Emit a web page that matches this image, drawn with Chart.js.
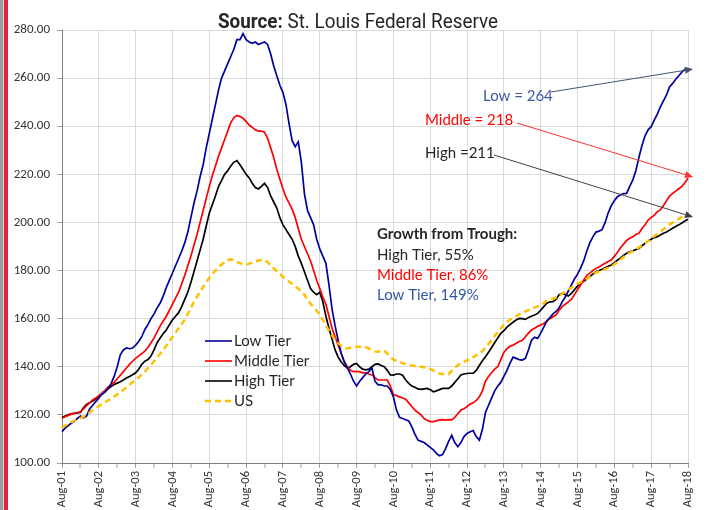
<!DOCTYPE html>
<html>
<head>
<meta charset="utf-8">
<script src="https://cdn.jsdelivr.net/npm/chart.js@4.4.1/dist/chart.umd.min.js"></script>
<style>
  html, body { margin: 0; padding: 0; background: #ffffff; }
  #wrap { position: relative; width: 706px; height: 510px; overflow: hidden; }
  #c { position: absolute; left: 0; top: 0; }
  .stripe1 { position: absolute; left: 0; top: 0; width: 3px; height: 510px; background: #9a9a9a; }
  .stripe2 { position: absolute; left: 3px; top: 0; width: 1px; height: 510px; background: #d8d8d8; }
  .stripe3 { position: absolute; left: 4px; top: 0; width: 4px; height: 510px; background: #e3203b; }
</style>
</head>
<body>
<div id="wrap">
  <canvas id="c" width="706" height="510"></canvas>
  <div class="stripe1"></div><div class="stripe2"></div><div class="stripe3"></div>
</div>
<script>
// ---------- DATA ----------
const monthNames = ['Aug','Sep','Oct','Nov','Dec','Jan','Feb','Mar','Apr','May','Jun','Jul'];
const yearTickLabels = ['Aug-01','Aug-02','Aug-03','Aug-04','Aug-05','Aug-06','Aug-07','Aug-08','Aug-09',
  'Aug-10','Aug-11','Aug-12','Aug-13','Aug-14','Aug-15','Aug-16','Aug-17','Aug-18'];
const yTicks = [100, 120, 140, 160, 180, 200, 220, 240, 260, 280];

const lowTier = [
  113, 114.5, 115.5, 116.5, 117.3, 118.5, 119.5, 118.8, 119.5, 122.5, 124, 125.5,
  127, 128.5, 129.5, 131, 133, 136, 140, 145, 147, 147.8, 147.5, 147.8,
  149, 150.5, 152.5, 155.5, 157.5, 160, 162, 164.5, 166.5, 169.5, 173, 176,
  179, 182, 185, 188, 191.5, 196, 202, 208, 213, 219, 224, 231,
  237, 243, 249, 255, 260, 263, 266, 269, 272, 276, 276, 278.5,
  276, 275, 274.5, 275, 274, 274.5, 275, 274, 270, 265, 261, 257,
  254, 249, 241, 234, 231.5, 233.5, 225, 212, 205, 202, 199, 193,
  189, 186, 183, 174, 164, 157, 151, 145.5, 142, 139.5, 137, 134,
  132, 134, 135.5, 137, 138, 139.5, 134, 132.5, 132.5, 132, 132, 130.5,
  127.5, 122, 119, 118.5, 118, 117.5, 115, 112, 109.5, 109, 108.5, 107.5,
  106.5, 105.5, 104, 103, 103.5, 106, 109, 111.5, 108.5, 106.8, 108.5, 111,
  112.3, 113, 113.5, 111, 109.5, 114, 121, 124, 127, 130, 132, 133.5,
  136, 138.5, 141.5, 144, 143.5, 143, 142.8, 143.5, 147, 151, 152.3, 151.8,
  154, 156.5, 159, 160.5, 162, 163, 164.5, 167, 169, 171.5, 174, 176.5,
  178.5, 181, 184, 188, 191.5, 194, 196, 196.4, 197, 200, 204, 207,
  209, 210.7, 211.5, 212, 212.1, 215, 217.6, 221.5, 227, 232, 236, 238.5,
  239.8, 242.5, 245, 248.1, 250.5, 253, 256.4, 257.8, 259.5, 261, 262.5, 263.6,
  263.6
];

const middleTier = [
  118.6, 119.2, 119.8, 120.3, 120.6, 121, 121.3, 122.5, 123.8, 125, 126.2, 127,
  128, 129, 130.2, 131.5, 132.5, 133.5, 135, 136.5, 138, 139.5, 141, 142.3,
  143.5, 144.5, 145.5, 146.5, 148, 150, 152, 154.5, 157, 159, 161, 163.5,
  166, 168.5, 171, 174.5, 178, 182, 186, 190.5, 195, 200, 205, 210,
  215, 219.5, 223.5, 227.5, 231, 234.5, 238, 241.5, 243.5, 244.5, 244, 243.3,
  242, 240.5, 239.5, 238.5, 238, 238, 237.5, 235, 231, 227, 222, 218,
  214, 210.5, 208, 205.5, 202, 197.5, 193, 190, 187, 184, 180, 176,
  172.5, 169, 166, 161, 156, 152.5, 149, 145.5, 142, 140, 138.5, 138,
  138, 138, 137.5, 137.5, 137, 136.6, 135.5, 134.5, 134.5, 134.5, 134.5, 132,
  128.5, 128, 127.5, 127, 126.5, 125, 123.5, 122, 121, 120, 118.5, 117.8,
  117.2, 117.2, 117.5, 117.9, 118, 117.8, 118, 117.9, 119, 120.5, 122, 122.5,
  123.5, 124.5, 125, 126, 127.5, 130, 134, 136, 137.5, 139, 140, 143,
  146, 147.5, 148.5, 149, 149.8, 150.5, 151, 152.5, 154, 155.3, 156, 156.8,
  157.4, 158, 159, 160, 160.8, 161.5, 163.5, 165, 166, 167, 168, 170,
  172, 174, 176, 178, 178.9, 180, 180.9, 181.5, 182.3, 183, 183.8, 184.4,
  186, 187.5, 189.5, 191, 192.5, 193.4, 194, 195, 195.5, 197.5, 199, 201,
  202, 203, 204.5, 205.2, 207, 209, 211, 212.1, 213, 214, 215, 216.5,
  218.4
];

const highTier = [
  118.8, 119.5, 120, 120.4, 120.6, 120.8, 121, 123, 124.3, 125, 125.8, 126.6,
  127.8, 128.7, 129.7, 130.8, 131.8, 132.6, 133.2, 133.8, 134.5, 135.3, 136, 136.7,
  137.5, 139, 141, 142.3, 143, 144.5, 147, 150, 152, 153.8, 155.3, 157.5,
  159.5, 161, 162.5, 165, 168, 171, 175, 179.5, 184, 188.5, 193, 198.5,
  203.8, 207.5, 211, 214.9, 217.5, 220, 221.5, 223.5, 225, 225.7, 224, 222,
  220, 218.5, 216.3, 214.5, 213.9, 215, 216.3, 214.5, 211, 208.5, 206, 202,
  199, 197, 195, 193, 190, 186, 183, 179.5, 176, 172.5, 171, 170,
  171, 167, 161, 156, 151.5, 147, 144, 142, 140.5, 139.5, 140, 141,
  141.4, 140, 139, 138.7, 139, 140, 141, 141.2, 140.5, 140, 138.5, 136.6,
  136.5, 137, 137, 136.5, 134.5, 133.1, 132, 131.5, 130.8, 130.6, 130.8, 131,
  130.5, 129.6, 130, 130.5, 131, 131, 131, 132, 133.5, 135, 136.6, 137,
  137.2, 137.3, 137.3, 138.5, 140.5, 142.5, 144.2, 146, 148, 150, 152, 153.9,
  155, 156.5, 157.5, 158.5, 159.5, 160.1, 160, 159.7, 160.5, 161, 161.5, 162.2,
  163.5, 165, 166.4, 167, 167.1, 168, 170, 170.5, 170, 169.4, 170.5, 172,
  173.5, 174.7, 175.5, 176.5, 177.5, 178.5, 179.5, 180, 180.5, 181.2, 181.8, 182.3,
  183.3, 184.3, 185.3, 186.3, 187.2, 187.8, 188.2, 188.7, 189.2, 190.3, 191.3, 192.3,
  193, 193.7, 194.1, 194.8, 195.5, 196, 196.8, 197.6, 198.3, 199, 199.8, 200.6,
  201.3
];

const usIndex = [
  114.8, 115.5, 116.2, 117, 117.6, 118.2, 118.7, 119.3, 120.2, 121, 122, 122.8,
  123.6, 124.4, 125.2, 126, 126.8, 127.6, 128.5, 129.4, 130.4, 131.4, 132.5, 133.6,
  134.6, 135.6, 136.8, 138, 139.4, 140.8, 142.3, 143.8, 145.4, 147, 148.8, 150.6,
  152.4, 154.2, 156, 157.8, 159.6, 162, 164.5, 167, 169.1, 171.2, 173.2, 175.2,
  177, 178.6, 180, 181.3, 182.5, 183.5, 184.3, 184.7, 184.3, 183.6, 183, 182.8,
  182.6, 182.8, 183.3, 183.8, 184.2, 184.4, 184.4, 183.5, 182, 180.9, 179.8, 178.6,
  177.4, 176.4, 175.4, 174.4, 173.5, 172.5, 171.3, 169.9, 167.8, 166.2, 164.8, 163.3,
  161.6, 159.5, 157.2, 155, 153, 151.3, 149.9, 148.7, 147.8, 147.6, 147.9, 148.3,
  148.3, 148.3, 148.2, 148.1, 147.6, 147, 146.4, 146.3, 146.5, 146.7, 145.5, 144,
  143, 142.5, 142, 141.5, 141, 140.7, 140.5, 140.3, 140.1, 140, 139.8, 139.5,
  139, 138.5, 137.7, 137.2, 137, 136.7, 137, 138.3, 139.6, 140.7, 141.4, 142,
  142.7, 143.3, 144, 144.8, 145.4, 146.5, 148, 149.5, 151, 152.8, 154.4, 156,
  157.4, 158.6, 159.6, 160.5, 161.1, 161.8, 162.4, 163, 163.6, 164.2, 164.7, 165.1,
  165.5, 166.5, 167.5, 167.9, 168.3, 168.8, 169.4, 170.4, 171.3, 172.1, 172.9, 173.8,
  174.5, 175.2, 175.9, 176.6, 177.4, 178.3, 179.1, 179.6, 180.1, 180.6, 181.1, 181.6,
  182.6, 183.6, 184.6, 185.6, 186.6, 187.4, 188.1, 188.9, 189.6, 190.6, 191.3, 192.3,
  193.3, 194.3, 195.2, 196.2, 197.2, 198.2, 199.2, 199.9, 200.7, 201.5, 202.2, 202.9,
  203.4
];

const seriesNames = ['Low Tier', 'Middle Tier', 'High Tier', 'US'];
const growthLines = ['Growth from Trough:', 'High Tier, 55%', 'Middle Tier, 86%', 'Low Tier, 149%'];
const endLabels = ['Low = 264', 'Middle = 218', 'High =211'];
const titleBold = 'Source:';
const titleRest = ' St. Louis Federal Reserve';

// category labels (one per month)
const categories = lowTier.map((_, i) => monthNames[i % 12] + '-' + String(1 + Math.floor((i + 7) / 12)).padStart(2, '0'));

// ---------- STYLE ----------
const COLORS = { low: '#00009c', mid: '#ff0000', high: '#000000', us: '#ffc000' };
const TXT = '#262626';
const FONT = 'Lato, "Liberation Sans", sans-serif';
const TICKFONT = 'Carlito, "Liberation Sans", sans-serif';

function arrow(ctx, x1, y1, x2, y2, color, w) {
  ctx.save();
  ctx.strokeStyle = color; ctx.fillStyle = color; ctx.lineWidth = w;
  const ang = Math.atan2(y2 - y1, x2 - x1);
  const L = 8, H = 3.5;
  const bx = x2 - L * Math.cos(ang), by = y2 - L * Math.sin(ang);
  ctx.beginPath(); ctx.moveTo(x1, y1); ctx.lineTo(bx, by); ctx.stroke();
  ctx.beginPath();
  ctx.moveTo(x2, y2);
  ctx.lineTo(bx + H * Math.sin(ang), by - H * Math.cos(ang));
  ctx.lineTo(bx - H * Math.sin(ang), by + H * Math.cos(ang));
  ctx.closePath(); ctx.fill();
  ctx.restore();
}

const overlay = {
  id: 'overlay',
  afterDraw(chart) {
    const ctx = chart.ctx;
    ctx.save();
    // Title
    const tf = 21;
    ctx.textBaseline = 'alphabetic';
    ctx.font = 'bold ' + tf + 'px Roboto';
    const w1 = ctx.measureText(titleBold).width;
    ctx.font = tf + 'px Roboto';
    const w2 = ctx.measureText(titleRest).width;
    const targetW = 280, sx = targetW / (w1 + w2);
    ctx.save();
    ctx.translate(358 - targetW / 2, 28);
    ctx.scale(sx, 1);
    ctx.fillStyle = TXT;
    ctx.font = 'bold ' + tf + 'px Roboto';
    ctx.fillText(titleBold, 0, 0);
    ctx.font = tf + 'px Roboto';
    ctx.fillText(titleRest, w1, 0);
    ctx.restore();

    // Legend
    const legColors = [COLORS.low, COLORS.mid, COLORS.high, COLORS.us];
    const legY = [341, 361, 381, 401];
    ctx.textBaseline = 'middle';
    ctx.font = '15px ' + FONT;
    for (let i = 0; i < 4; i++) {
      ctx.save();
      ctx.strokeStyle = legColors[i];
      ctx.lineWidth = i === 3 ? 2.5 : 1.6;
      if (i === 3) ctx.setLineDash([6, 4]);
      ctx.beginPath(); ctx.moveTo(205, legY[i]); ctx.lineTo(232, legY[i]); ctx.stroke();
      ctx.restore();
      ctx.fillStyle = TXT;
      ctx.fillText(seriesNames[i], 234, legY[i]);
    }

    // Growth text block
    const gY = [234, 255, 275, 295];
    const gC = [TXT, TXT, '#ff0000', '#3357a8'];
    for (let i = 0; i < 4; i++) {
      ctx.font = (i === 0 ? 'bold ' : '') + '15px ' + FONT;
      ctx.fillStyle = gC[i];
      ctx.fillText(growthLines[i], 377, gY[i]);
    }

    // End labels and arrows
    ctx.font = '15px ' + FONT;
    ctx.fillStyle = '#3d5a9e'; ctx.fillText(endLabels[0], 483, 96);
    ctx.fillStyle = '#ff0000'; ctx.fillText(endLabels[1], 425, 120);
    ctx.fillStyle = TXT; ctx.fillText(endLabels[2], 425, 153);
    arrow(ctx, 551, 92, 693, 69, '#44546a', 1);
    arrow(ctx, 517, 123, 693, 177, '#ff3030', 1);
    arrow(ctx, 494, 155, 693, 217, '#404040', 1);
    ctx.restore();
  }
};

const ds = (label, data, color, extra) => Object.assign({
  label, data, borderColor: color, backgroundColor: color, borderWidth: 1.7,
  pointRadius: 0, pointHoverRadius: 0, tension: 0, fill: false
}, extra || {});

new Chart(document.getElementById('c'), {
  type: 'line',
  data: {
    labels: categories,
    datasets: [
      ds(seriesNames[3], usIndex, COLORS.us, { borderWidth: 2.5, borderDash: [6, 4], order: 0 }),
      ds(seriesNames[0], lowTier, COLORS.low, { order: 1 }),
      ds(seriesNames[1], middleTier, COLORS.mid, { order: 2 }),
      ds(seriesNames[2], highTier, COLORS.high, { order: 3 })
    ]
  },
  options: {
    responsive: false,
    animation: false,
    events: [],
    layout: { padding: { top: 30, right: 9, left: 0, bottom: 0 } },
    plugins: { legend: { display: false }, tooltip: { enabled: false }, title: { display: false } },
    scales: {
      x: {
        type: 'category',
        offset: false,
        afterFit(s) { s.height = 47; },
        border: { color: '#808080', width: 1 },
        grid: {
          color: c => (c.index % 12 === 0 ? '#d9d9d9' : 'rgba(0,0,0,0)'),
          tickColor: c => (c.index % 6 === 0 ? '#a0a0a0' : 'rgba(0,0,0,0)'),
          lineWidth: c => (c.index % 12 === 0 ? 1 : 0),
          tickWidth: 1,
          tickLength: 5,
          drawOnChartArea: true
        },
        ticks: {
          autoSkip: false,
          maxRotation: 90, minRotation: 90,
          padding: 3,
          color: '#333333',
          font: { family: TICKFONT, size: 12.5 },
          callback: (v, i) => (i % 12 === 0 ? yearTickLabels[i / 12] : '')
        }
      },
      y: {
        min: yTicks[0], max: yTicks[yTicks.length - 1],
        afterFit(s) { s.width = 62; },
        afterBuildTicks(s) { s.ticks = yTicks.map(v => ({ value: v })); },
        border: { color: '#808080', width: 1 },
        grid: { color: '#d9d9d9', tickColor: '#a0a0a0', tickLength: 5 },
        ticks: {
          padding: 7,
          color: '#333333',
          font: { family: TICKFONT, size: 13 },
          callback: v => Number(v).toFixed(2)
        }
      }
    }
  },
  plugins: [overlay]
});
</script>
</body>
</html>
